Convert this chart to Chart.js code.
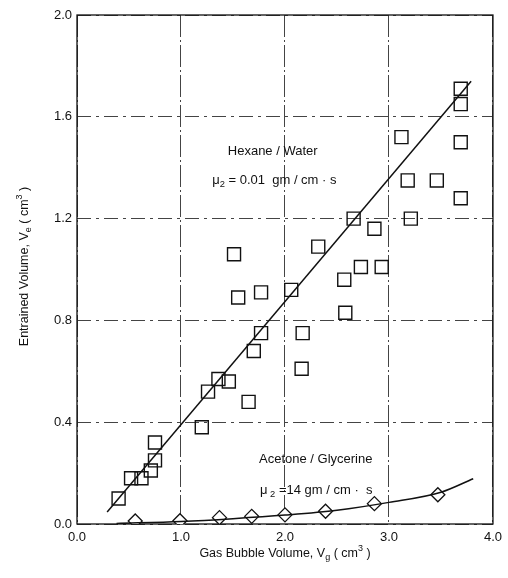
<!DOCTYPE html>
<html>
<head>
<meta charset="utf-8">
<script src="https://cdn.jsdelivr.net/npm/chart.js@4.4.1/dist/chart.umd.min.js"></script>
<style>
  html, body { margin: 0; padding: 0; background: #fff; }
  #wrap { position: relative; width: 508px; height: 578px; }
</style>
</head>
<body>
<div id="wrap"><canvas id="chart" width="508" height="578"></canvas></div>
<script>
var FONT = "'Liberation Sans Narrow', 'Arial Narrow', 'Liberation Sans', Arial, sans-serif";
var INK = '#111';

// Hexane / Water (squares)
var hexaneX = [0.40, 0.52, 0.62, 0.71, 0.75, 0.75, 1.20, 1.26, 1.36, 1.46, 1.65, 1.70,
               1.77, 1.55, 1.77, 1.51, 2.06, 2.17, 2.16, 2.32, 2.58, 2.57, 2.73, 2.93,
               2.86, 2.66, 3.21, 3.18, 3.46, 3.12, 3.69, 3.69, 3.69, 3.69];
var hexaneY = [0.10, 0.18, 0.18, 0.21, 0.25, 0.32, 0.38, 0.52, 0.57, 0.56, 0.48, 0.68,
               0.75, 0.89, 0.91, 1.06, 0.92, 0.75, 0.61, 1.09, 0.83, 0.96, 1.01, 1.01,
               1.16, 1.20, 1.20, 1.35, 1.35, 1.52, 1.50, 1.28, 1.65, 1.71];
// straight fit line, end points
var hexaneFitX = [0.29, 3.79];
var hexaneFitY = [0.047, 1.74];

// Acetone / Glycerine (diamonds)
var acetoneX = [0.56, 0.99, 1.37, 1.68, 2.00, 2.39, 2.86, 3.47];
var acetoneY = [0.012, 0.013, 0.025, 0.03, 0.036, 0.05, 0.08, 0.115];
// curve through them
var acetoneFitX = [0.38, 1.00, 1.50, 2.00, 2.50, 3.00, 3.50, 3.81];
var acetoneFitY = [0.002, 0.010, 0.021, 0.035, 0.054, 0.085, 0.125, 0.178];

var xTicks = [0, 1, 2, 3, 4];
var yTicks = [0, 0.4, 0.8, 1.2, 1.6, 2.0];

// text pieces: [text, shift] shift 1 = superscript, -1 = subscript
var xTitle = [['Gas Bubble Volume, V', 0], ['g', -1], [' ( cm', 0], ['3', 1], [' )', 0]];
var yTitle = [['Entrained Volume, V', 0], ['e', -1], [' ( cm', 0], ['3', 1], [' )', 0]];
var notes = [
  { x: 1.45, y: 1.465, parts: [['Hexane / Water', 0]] },
  { x: 1.30, y: 1.35, parts: [['\u03bc', 0], ['2', -1], [' = 0.01  gm / cm \u00b7 s', 0]] },
  { x: 1.75, y: 0.252, parts: [['Acetone / Glycerine', 0]] },
  { x: 1.76, y: 0.132, parts: [['\u03bc', 0], [' 2', -1], [' =14 gm / cm \u00b7  s', 0]] }
];

function pts(xs, ys) {
  var out = [];
  for (var i = 0; i < xs.length; i++) out.push({ x: xs[i], y: ys[i] });
  return out;
}

function richWidth(ctx, parts, size) {
  var w = 0;
  parts.forEach(function(p) {
    ctx.font = (p[1] ? size * 0.72 : size) + 'px ' + FONT;
    w += ctx.measureText(p[0]).width;
  });
  return w;
}

function drawRich(ctx, parts, x, y, size) {
  var cx = x;
  parts.forEach(function(p) {
    var fs = p[1] ? size * 0.72 : size;
    var dy = p[1] === 1 ? -size * 0.42 : (p[1] === -1 ? size * 0.32 : 0);
    ctx.font = fs + 'px ' + FONT;
    ctx.fillText(p[0], cx, y + dy);
    cx += ctx.measureText(p[0]).width;
  });
}

var paperPlugin = {
  id: 'paper',
  beforeDatasetsDraw: function(chart) {
    var ctx = chart.ctx, a = chart.chartArea;
    ctx.save();
    ctx.strokeStyle = INK;
    ctx.lineWidth = 1.3;
    ctx.strokeRect(a.left, a.top, a.right - a.left, a.bottom - a.top);
    ctx.restore();
  },
  afterDraw: function(chart) {
    var ctx = chart.ctx, a = chart.chartArea;
    var xs = chart.scales.x, ys = chart.scales.y;
    ctx.save();
    ctx.fillStyle = INK;
    ctx.textBaseline = 'middle';
    ctx.textAlign = 'left';
    notes.forEach(function(n) {
      drawRich(ctx, n.parts, xs.getPixelForValue(n.x), ys.getPixelForValue(n.y), 13);
    });
    var w = richWidth(ctx, xTitle, 12.5);
    drawRich(ctx, xTitle, (a.left + a.right) / 2 - w / 2, a.bottom + 30, 12.5);
    ctx.translate(25, (a.top + a.bottom) / 2 - 3);
    ctx.rotate(-Math.PI / 2);
    w = richWidth(ctx, yTitle, 12.5);
    drawRich(ctx, yTitle, -w / 2, 0, 12.5);
    ctx.restore();
  }
};

new Chart(document.getElementById('chart'), {
  type: 'scatter',
  data: {
    datasets: [
      {
        type: 'line', data: pts(hexaneFitX, hexaneFitY),
        borderColor: INK, borderWidth: 1.5, pointRadius: 0, fill: false
      },
      {
        type: 'line', data: pts(acetoneFitX, acetoneFitY),
        borderColor: INK, borderWidth: 1.5, pointRadius: 0, fill: false,
        cubicInterpolationMode: 'monotone'
      },
      {
        data: pts(hexaneX, hexaneY), pointStyle: 'rect', pointRadius: 9.2,
        pointBorderColor: INK, pointBackgroundColor: 'rgba(0,0,0,0)', pointBorderWidth: 1.4
      },
      {
        data: pts(acetoneX, acetoneY), pointStyle: 'rectRot', pointRadius: 7,
        pointBorderColor: INK, pointBackgroundColor: '#fff', pointBorderWidth: 1.3
      }
    ]
  },
  options: {
    responsive: false,
    animation: false,
    devicePixelRatio: 1,
    events: [],
    layout: { padding: { left: 0, right: 14, top: 15, bottom: 0 } },
    plugins: { legend: { display: false }, tooltip: { enabled: false } },
    scales: {
      x: {
        type: 'linear', min: 0, max: 4,
        afterBuildTicks: function(s) { s.ticks = xTicks.map(function(v) { return { value: v }; }); },
        afterFit: function(s) { s.height = 54; },
        grid: { color: '#444', lineWidth: 1, drawTicks: false },
        border: { display: false, dash: [22, 3, 2, 3] },
        ticks: {
          color: INK, padding: 6, font: { family: FONT, size: 13 },
          callback: function(v) { return v.toFixed(1); }
        }
      },
      y: {
        type: 'linear', min: 0, max: 2,
        afterBuildTicks: function(s) { s.ticks = yTicks.map(function(v) { return { value: v }; }); },
        afterFit: function(s) { s.width = 77; },
        grid: { color: '#444', lineWidth: 1, drawTicks: false },
        border: { display: false, dash: [14, 5, 3, 5] },
        ticks: {
          color: INK, padding: 5, font: { family: FONT, size: 13 },
          callback: function(v) { return v.toFixed(1); }
        }
      }
    }
  },
  plugins: [paperPlugin]
});
</script>
</body>
</html>
